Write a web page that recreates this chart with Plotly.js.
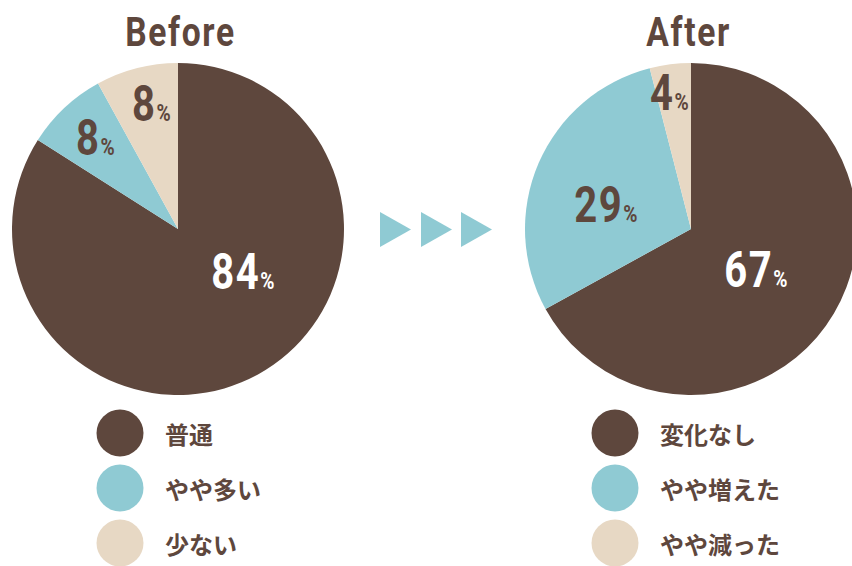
<!DOCTYPE html>
<html>
<head>
<meta charset="utf-8">
<script src="https://cdn.plot.ly/plotly-3.0.1.min.js"></script>
<style>
html,body{margin:0;padding:0;overflow:hidden;background:#fff;width:852px;height:566px;}
#chart{width:870px;height:566px;}
</style>
</head>
<body>
<div id="chart"></div>
<script>
// ---- data ----
const panelTitles = ['Before', 'After'];
const categoriesBefore = ['普通', 'やや多い', '少ない'];
const valuesBefore = [84, 8, 8];
const categoriesAfter = ['変化なし', 'やや増えた', 'やや減った'];
const valuesAfter = [67, 29, 4];

// ---- styles ----
const W = 870, H = 566;
const BROWN = '#5e473d', BLUE = '#8fcad3', BEIGE = '#e7d8c4';
const colors = [BROWN, BLUE, BEIGE];
const labelColors = ['#ffffff', BROWN, BROWN];
const numFont = 'Roboto, sans-serif';
const cjkFont = 'Noto Sans CJK JP, sans-serif';
const px = x => x / W;
const py = y => 1 - y / H;

const panels = [
  {cx: 178, cy: 229, r: 166, titleX: 180, legendX: 120,
   cats: categoriesBefore, vals: valuesBefore,
   labelPos: [[243, 272], [96, 138], [152, 104]]},
  {cx: 691, cy: 229, r: 166, titleX: 688, legendX: 615,
   cats: categoriesAfter, vals: valuesAfter,
   labelPos: [[756, 270], [606, 205], [670, 93]]}
];

const traces = [];
const annotations = [];
const shapes = [];
const condensed = []; // [annotation index, scaleX, letterSpacing]

panels.forEach((p, i) => {
  traces.push({
    type: 'pie',
    labels: p.cats,
    values: p.vals,
    sort: false,
    direction: 'clockwise',
    rotation: 0,
    marker: {colors: colors, line: {width: 0}},
    textinfo: 'none',
    hoverinfo: 'none',
    showlegend: false,
    domain: {x: [px(p.cx - p.r), px(p.cx + p.r)], y: [py(p.cy + p.r), py(p.cy - p.r)]}
  });
  // title
  condensed.push([annotations.length, 0.82, '2px']);
  annotations.push({
    text: '<b>' + panelTitles[i] + '</b>',
    xref: 'paper', yref: 'paper', x: px(p.titleX), y: py(32),
    xanchor: 'center', yanchor: 'middle', showarrow: false,
    font: {family: numFont, size: 41, color: BROWN}
  });
  // percent labels
  p.vals.forEach((v, k) => {
    condensed.push([annotations.length, 0.8, '2px']);
    annotations.push({
      text: '<b>' + v + '<span style="font-size:24px">%</span></b>',
      xref: 'paper', yref: 'paper', x: px(p.labelPos[k][0]), y: py(p.labelPos[k][1]),
      xanchor: 'center', yanchor: 'middle', showarrow: false,
      font: {family: numFont, size: 50, color: labelColors[k]}
    });
  });
  // legend
  p.cats.forEach((c, k) => {
    const ly = 433 + 55 * k;
    shapes.push({
      type: 'circle', xref: 'paper', yref: 'paper',
      x0: px(p.legendX - 23.5), x1: px(p.legendX + 23.5),
      y0: py(ly + 23.5), y1: py(ly - 23.5),
      fillcolor: colors[k], line: {width: 0}
    });
    annotations.push({
      text: '<b>' + c + '</b>',
      xref: 'paper', yref: 'paper', x: px(p.legendX + 43), y: py(ly),
      xanchor: 'left', yanchor: 'middle', showarrow: false,
      font: {family: cjkFont, size: 24, color: BROWN}
    });
  });
});

// arrows
[380, 421, 461].forEach(x0 => {
  const x1 = x0 + 31;
  shapes.push({
    type: 'path', xref: 'paper', yref: 'paper',
    path: `M ${px(x0)},${py(212)} L ${px(x1)},${py(229.5)} L ${px(x0)},${py(247)} Z`,
    fillcolor: BLUE, line: {width: 0}
  });
});

Plotly.newPlot('chart', traces, {
  width: W, height: H,
  margin: {l: 0, r: 0, t: 0, b: 0},
  paper_bgcolor: '#ffffff',
  plot_bgcolor: '#ffffff',
  showlegend: false,
  annotations: annotations,
  shapes: shapes
}, {staticPlot: true}).then(() => {
  const groups = document.querySelectorAll('#chart g.annotation');
  condensed.forEach(([idx, s, ls]) => {
    const g = groups[idx];
    if (!g) return;
    const t = g.querySelector('text.annotation-text');
    if (!t) return;
    t.style.letterSpacing = ls;
    t.style.transformBox = 'fill-box';
    t.style.transformOrigin = 'center';
    t.style.transform = 'scaleX(' + s + ')';
  });
});
</script>
</body>
</html>
